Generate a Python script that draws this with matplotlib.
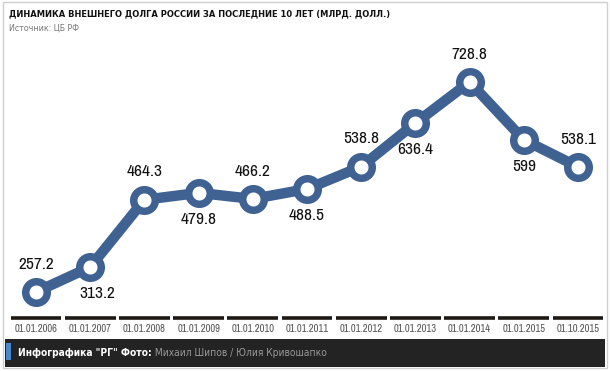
import matplotlib.pyplot as plt
from matplotlib import font_manager
from matplotlib.patches import Rectangle

dates = ['01.01.2006', '01.01.2007', '01.01.2008', '01.01.2009', '01.01.2010',
         '01.01.2011', '01.01.2012', '01.01.2013', '01.01.2014', '01.01.2015',
         '01.10.2015']
debt = [257.2, 313.2, 464.3, 479.8, 466.2, 488.5, 538.8, 636.4, 728.8, 599, 538.1]
labels = ['257.2', '313.2', '464.3', '479.8', '466.2', '488.5', '538.8',
          '636.4', '728.8', '599', '538.1']

title = 'ДИНАМИКА ВНЕШНЕГО ДОЛГА РОССИИ ЗА ПОСЛЕДНИЕ 10 ЛЕТ (МЛРД. ДОЛЛ.)'
source = 'Источник: ЦБ РФ'
credit_bold = 'Инфографика "РГ" Фото:'
credit = 'Михаил Шипов / Юлия Кривошапко'

fonts = font_manager.fontManager.ttflist

# narrow face for the digits (any)
num_font = 'Roboto'
for f in fonts:
    if 'Narrow' in f.name or 'Condensed' in f.name:
        num_font = f.name
        break

# narrow face that also has cyrillic
cyr_font, cyr_stretch, k = 'Roboto', 'normal', 0.84
for f in fonts:
    if f.name == 'Liberation Sans Narrow':
        cyr_font, k = f.name, 1.0
        break
else:
    for f in fonts:
        if f.name == 'DejaVu Sans' and f.stretch == 'condensed':
            cyr_font, cyr_stretch, k = 'DejaVu Sans', 'condensed', 0.9
            break

plt.rcParams['font.family'] = [num_font, 'DejaVu Sans']
cyr = dict(family=[cyr_font, 'DejaVu Sans'], fontstretch=cyr_stretch)

blue = '#3f6293'

W, H = 610, 371
fig = plt.figure(figsize=(W / 100, H / 100), dpi=100)

def px(x, y):
    return x / W, 1 - y / H

fig.patches.append(Rectangle(px(3, 368), 604 / W, 366 / H, transform=fig.transFigure,
                             fill=False, ec='#cfcfcf', lw=1, zorder=-3))
fig.patches.append(Rectangle(px(5, 367), 600 / W, 28 / H, transform=fig.transFigure,
                             fc='#232323', ec='none', zorder=-2))
fig.patches.append(Rectangle(px(6, 360), 5 / W, 17 / H, transform=fig.transFigure,
                             fc='#4a88cc', ec='none', zorder=-1))

fig.text(*px(9, 14), title, fontsize=7.4 * k, fontweight='bold', color='#111111',
         va='center', **cyr)
fig.text(*px(9, 28), source, fontsize=7.0 * k, color='#777777', va='center', **cyr)
t1 = fig.text(*px(18, 353), credit_bold, fontsize=8.1 * k, fontweight='bold',
              color='white', va='center', **cyr)

# plot area: x units map to ~54.2 px, y values map to ~0.445 px per unit
ax = fig.add_axes([8.9 / W, (H - 339.7) / H, 596.2 / W, 289.4 / H])
ax.set_xlim(-0.5, len(debt) - 0.5)
ax.set_ylim(150, 800)
ax.axis('off')

ax.annotate(' ' + credit, xy=(1, 0.5), xycoords=t1, va='center', ha='left',
            fontsize=8.1 * k, color='#9a9a9a', annotation_clip=False, **cyr)

x = list(range(len(debt)))
ax.plot(x, debt, color=blue, lw=7.5, zorder=2, solid_capstyle='round')
ax.plot(x, debt, 'o', ms=15.5, mfc='white', mec=blue, mew=5.4, zorder=3)

for i, (v, lab) in enumerate(zip(debt, labels)):
    dy = 20 if i % 2 == 0 else -19
    dx = 5 if i == 1 else 0
    ax.annotate(lab, (i, v), xytext=(dx, dy), textcoords='offset points',
                ha='center', va='center', fontsize=12.5, color='#111111')

xt = ax.get_xaxis_transform()
ax.hlines([0.075] * len(x), [i - 0.47 for i in x], [i + 0.47 for i in x],
          transform=xt, color='#1e1813', lw=2.6, clip_on=False)
for i, d in enumerate(dates):
    ax.text(i, 0.036, d, transform=xt, ha='center', va='center',
            fontsize=7.6, color='#555555', clip_on=False)

plt.savefig('out.png', dpi=100)
